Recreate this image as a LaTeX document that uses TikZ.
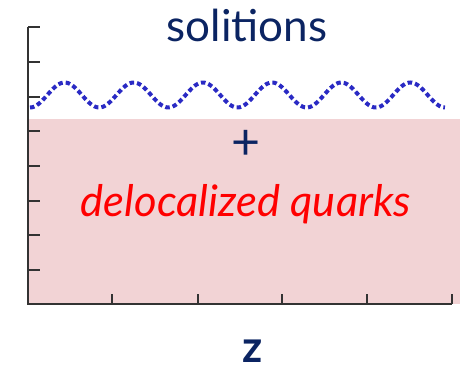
\documentclass[tikz,border=0pt]{standalone}
\usepackage{fontspec}
\setmainfont{Lato}
\definecolor{navy}{HTML}{0B2462}
\definecolor{pinkbg}{HTML}{F2D3D5}
\definecolor{waveblue}{HTML}{2A2AC4}
\definecolor{axisgray}{HTML}{333333}
\begin{document}
\begin{tikzpicture}[x=1pt,y=1pt,
  axisline/.style={draw=axisgray,line width=1.4pt},
  tickline/.style={draw=axisgray,line width=1.4pt},
  wave/.style={draw=waveblue,line width=4pt,dash pattern=on 4.5pt off 3pt},
  label/.style={inner sep=0pt,anchor=base}]
\useasboundingbox (0,0) rectangle (469,370);
% pink region
\fill[pinkbg] (28,66) rectangle (460,251);
% wave
\draw[wave] plot[domain=0:6,samples=240,smooth] ({30+69.17*\x},{275-12.5*cos(360*\x)});
% axes
\coordinate (o) at (28,66);
\coordinate (ytop) at (28,343);
\coordinate (xend) at (452,66);
\draw[axisline] (ytop) -- (o) -- (xend);
\foreach \y in {343,308,273,239,204,169,135,100}
  \draw[tickline] (28,\y) -- (40,\y);
\foreach \x in {112,198,282,367,452}
  \draw[tickline] (\x,66) -- (\x,76);
% texts
\node[label,text=navy,font=\fontsize{44}{44}\selectfont] (sol) at (247,328) {solitions};
\node[inner sep=0pt,text=navy,font=\fontsize{50}{50}\selectfont] (plus) at (246,225) {+};
\node[label,text=red,font=\itshape\fontsize{43.5}{43.5}\selectfont] (deloc) at (246,153) {delocalized quarks};
\node[label,text=navy,font=\bfseries\fontsize{44}{44}\selectfont] (z) at (253,8) {z};
\end{tikzpicture}
\end{document}
